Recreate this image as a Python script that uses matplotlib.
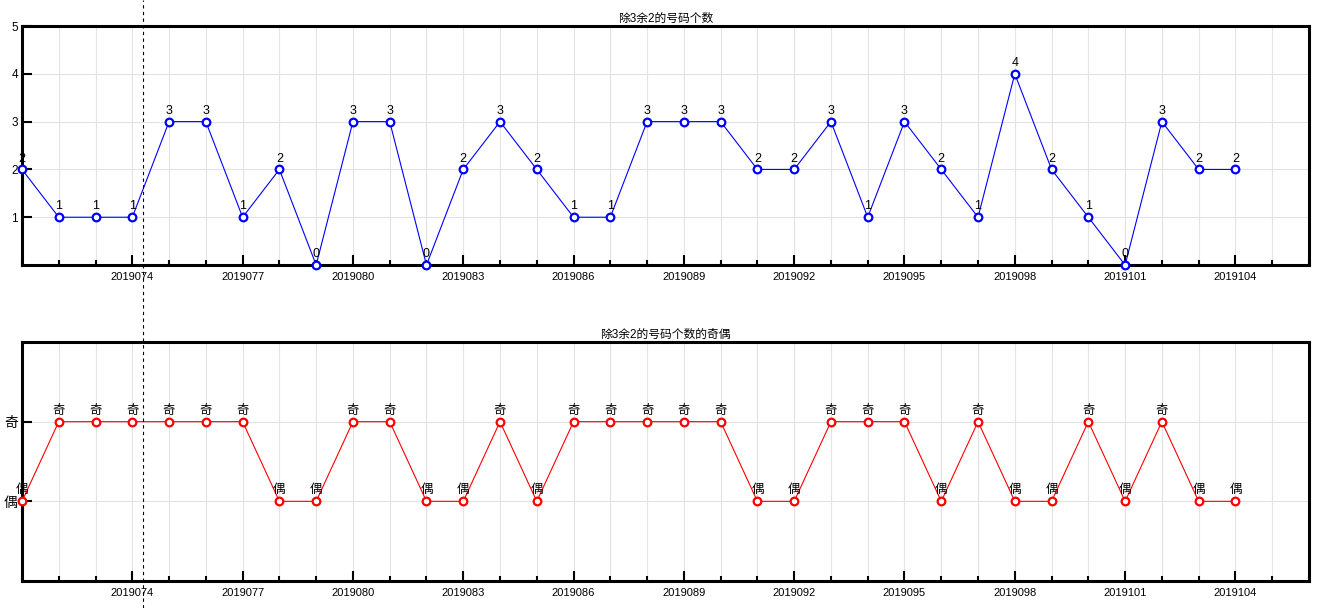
import numpy as np
import matplotlib
matplotlib.use("Agg")
import matplotlib.pyplot as plt
from matplotlib.lines import Line2D

plt.rcParams['font.family'] = ['Liberation Sans', 'Noto Sans CJK SC', 'DejaVu Sans']

periods = list(range(2019071, 2019105))
counts = [2, 1, 1, 1, 3, 3, 1, 2, 0, 3, 3, 0, 2, 3, 2, 1, 1, 3, 3, 3,
          2, 2, 3, 1, 3, 2, 1, 4, 2, 1, 0, 3, 2, 2]
parity = [c % 2 for c in counts]          # 1 = 奇, 0 = 偶
parity_names = ['偶', '奇']
title_top = '除3余2的号码个数'
title_bot = '除3余2的号码个数的奇偶'
cursor_period = 2019074.3

fig = plt.figure(figsize=(13.22, 6.08), dpi=100)
ax1 = fig.add_axes([0.01664, 0.5641, 0.9735, 0.3931])
ax2 = fig.add_axes([0.01664, 0.0444, 0.9735, 0.3931])

x_lo, x_hi = periods[0], periods[-1] + 2
major = [p for p in range(x_lo, x_hi + 1) if (p - periods[0]) % 3 == 0 and p != x_lo]
minor = [p for p in range(x_lo, x_hi + 1) if p not in major]


def style(ax):
    ax.set_xlim(x_lo, x_hi)
    for s in ax.spines.values():
        s.set_linewidth(2.2)
    ax.set_xticks(major)
    ax.set_xticklabels([str(p) for p in major], fontsize=8)
    ax.set_xticks(minor, minor=True)
    ax.tick_params(axis='x', which='major', direction='in', length=7, width=1.5, pad=5)
    ax.tick_params(axis='x', which='minor', direction='in', length=3.5, width=1.5)
    ax.tick_params(axis='y', which='major', direction='in', length=7.5, width=1.5, pad=3)
    ax.grid(True, which='both', color='#e3e3e3', linewidth=0.8)
    ax.set_axisbelow(True)


# top panel
style(ax1)
ax1.set_ylim(0, 5)
ax1.set_yticks([1, 2, 3, 4, 5])
ax1.tick_params(axis='y', labelsize=8.5)
ax1.plot(periods, counts, color='#0000ff', linewidth=0.8, marker='o', markersize=5.5,
         markerfacecolor='white', markeredgecolor='#0000ff', markeredgewidth=1.6, clip_on=False, zorder=3)
for p, c in zip(periods, counts):
    ax1.annotate(str(c), (p, c), xytext=(0, 3.5), textcoords='offset points',
                 ha='center', va='bottom', fontsize=9)
ax1.set_title(title_top, fontsize=8.5, pad=3)

# bottom panel
style(ax2)
ax2.set_ylim(-1, 2)
ax2.set_yticks([0, 1])
ax2.set_yticklabels(parity_names, fontsize=10)
ax2.plot(periods, parity, color='#ff0000', linewidth=0.8, marker='o', markersize=5.5,
         markerfacecolor='white', markeredgecolor='#ff0000', markeredgewidth=1.6, clip_on=False, zorder=3)
for p, v in zip(periods, parity):
    ax2.annotate(parity_names[v], (p, v), xytext=(0, 3.5), textcoords='offset points',
                 ha='center', va='bottom', fontsize=9)
ax2.set_title(title_bot, fontsize=8.5, pad=3)

# crosshair cursor across both panels
xd = ax1.transData.transform((cursor_period, 0))[0]
xf = fig.transFigure.inverted().transform((xd, 0))[0]
fig.add_artist(Line2D([xf, xf], [0, 1], transform=fig.transFigure, color='black',
                      linewidth=0.8, linestyle=(0, (3, 3))))

fig.savefig('out.png', dpi=100)
